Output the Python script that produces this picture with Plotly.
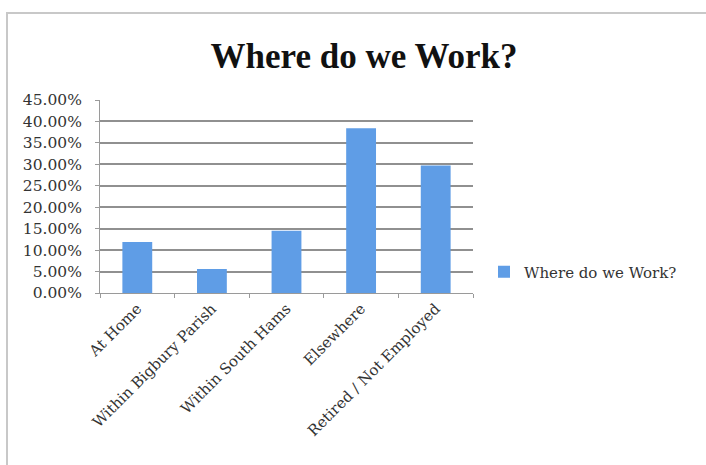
import plotly.graph_objects as go

categories = ["At Home", "Within Bigbury Parish", "Within South Hams", "Elsewhere", "Retired / Not Employed"]
values = [0.119, 0.056, 0.145, 0.384, 0.297]
series_name = "Where do we Work?"
title_text = "Where do we Work?"
tick_vals = [0, 0.05, 0.10, 0.15, 0.20, 0.25, 0.30, 0.35, 0.40, 0.45]

W, H = 706, 465
L, R, T, B = 100, 233, 100, 172
pw, ph = W - L - R, H - T - B

def px_x(x):
    return (x - L) / pw

def px_y(y):
    return (H - B - y) / ph

fig = go.Figure()
fig.add_trace(go.Bar(
    x=categories, y=values, name=series_name,
    marker=dict(color="#5f9de6", line=dict(width=0)),
    width=0.4, showlegend=True,
))

serif = "DejaVu Serif, Liberation Serif, serif"
title_font = "Liberation Serif, DejaVu Serif, serif"

fig.update_layout(
    width=W, height=H,
    margin=dict(l=L, r=R, t=T, b=B),
    paper_bgcolor="white", plot_bgcolor="white",
    title=dict(text="<b>" + title_text + "</b>", x=364 / W, xanchor="center",
               y=1 - 56 / H, yanchor="middle",
               font=dict(family=title_font, size=35, color="#111")),
    font=dict(family=serif, size=15, color="#333"),
    xaxis=dict(
        showline=True, linecolor="#9a9a9a", linewidth=1,
        tickangle=-45, ticks="outside", ticklen=4, tickcolor="#9a9a9a",
        tickson="boundaries", showgrid=False,
        tickfont=dict(family=serif, size=15, color="#333"),
    ),
    yaxis=dict(
        range=[0, 0.45], tickvals=tick_vals, tickformat=".2%",
        showgrid=True, gridcolor="#909090", gridwidth=1.5,
        showline=True, linecolor="#9a9a9a", linewidth=1,
        ticks="outside", ticklen=4, tickcolor="#9a9a9a",
        ticklabelstandoff=10,
        zeroline=False,
        tickfont=dict(family=serif, size=15.5, color="#333"),
    ),
    legend=dict(x=px_x(484), y=px_y(272), xanchor="left", yanchor="middle",
                font=dict(family=serif, size=15, color="#333"),
                itemwidth=30, bgcolor="rgba(0,0,0,0)"),
    shapes=[dict(type="rect", xref="paper", yref="paper",
                 x0=px_x(7), x1=px_x(760), y0=px_y(520), y1=px_y(13),
                 line=dict(color="#c8c8c8", width=2), fillcolor="rgba(0,0,0,0)", layer="below")],
)

fig.write_html("out.html", config={"displayModeBar": False},
               post_script="document.body.style.margin='0';")
